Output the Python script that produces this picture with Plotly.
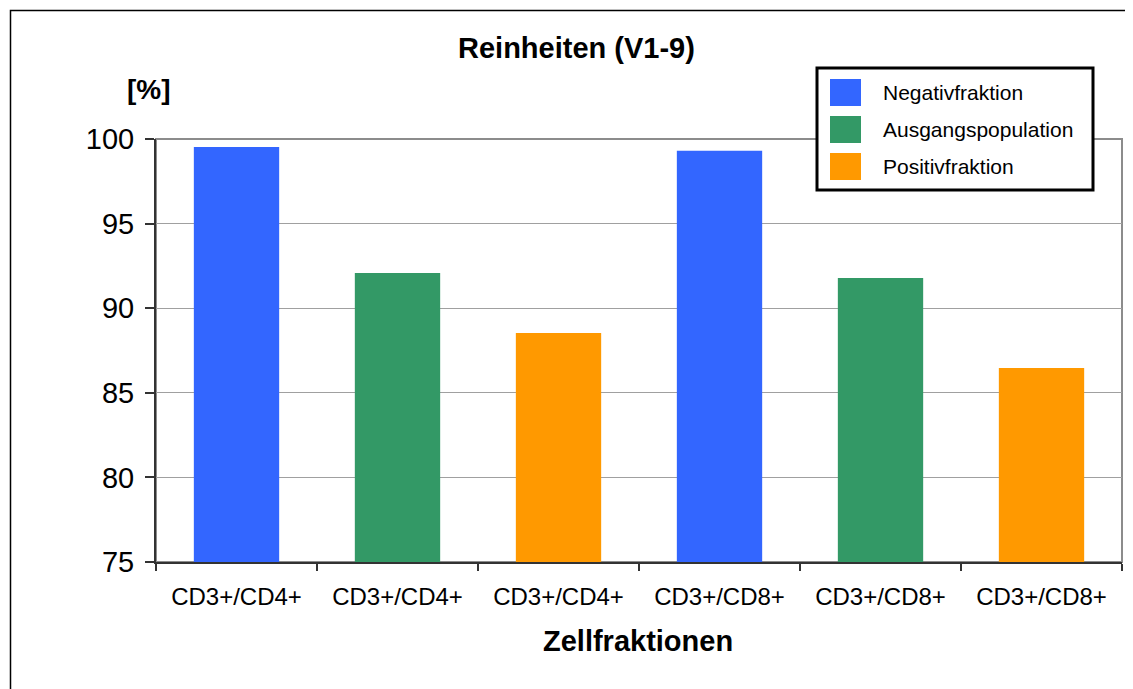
import plotly.graph_objects as go

# ---- data ----
categories = ["CD3+/CD4+", "CD3+/CD4+", "CD3+/CD4+", "CD3+/CD8+", "CD3+/CD8+", "CD3+/CD8+"]
series_names = ["Negativfraktion", "Ausgangspopulation", "Positivfraktion"]
negativ_values = [99.53, 99.30]
ausgang_values = [92.08, 91.78]
positiv_values = [88.53, 86.47]
series_positions = [[0, 3], [1, 4], [2, 5]]
y_ticks = [75, 80, 85, 90, 95, 100]
title_text = "Reinheiten (V1-9)"
y_title = "[%]"
x_title = "Zellfraktionen"

colors = ["#3366FF", "#339966", "#FF9900"]
series_values = [negativ_values, ausgang_values, positiv_values]

W, H = 1133, 689
OFF = 8  # page body margin
# target plot area in page pixels: x 156..1122, y 139..562
L = 156 - OFF
T = 139 - OFF
R = W - (1122 - OFF)
B = H - (562 - OFF)
pw, ph = W - L - R, H - T - B


def px(x):
    return (x - OFF - L) / pw


def py(y):
    return (H - B - (y - OFF)) / ph


FONT = "Arial, Liberation Sans, sans-serif"

fig = go.Figure()
for name, pos, vals, col in zip(series_names, series_positions, series_values, colors):
    fig.add_trace(go.Bar(x=pos, y=vals, name=name, marker=dict(color=col, line=dict(width=0)),
                         width=0.53, showlegend=False))

fig.update_layout(
    width=W, height=H,
    margin=dict(l=L, r=R, t=T, b=B),
    paper_bgcolor="white", plot_bgcolor="white",
    barmode="overlay",
    font=dict(family=FONT, color="black"),
    xaxis=dict(
        range=[-0.5, 5.5], tickmode="array", tickvals=list(range(len(categories))),
        ticktext=categories, ticks="", showgrid=False, zeroline=False,
        showline=True, linecolor="#333333", linewidth=2,
        tickfont=dict(size=24, family=FONT, color="black"),
        minor=dict(ticks="outside", tickmode="array",
                   tickvals=[i - 0.5 for i in range(len(categories) + 1)],
                   ticklen=7, tickwidth=2, tickcolor="#333333", showgrid=False),
        ticklabelstandoff=12,
    ),
    yaxis=dict(
        range=[75, 100], tickmode="array", tickvals=y_ticks,
        ticks="outside", ticklen=9, tickwidth=2, tickcolor="#333333",
        showgrid=True, gridcolor="#a0a0a0", gridwidth=1, zeroline=False,
        showline=True, linecolor="#333333", linewidth=2,
        tickfont=dict(size=29, family=FONT, color="black"),
        ticklabelstandoff=5,
    ),
)

shapes = [
    # plot area border (top/right grey)
    dict(type="rect", xref="paper", yref="paper", x0=0, y0=0, x1=1, y1=1,
         line=dict(color="#8c8c8c", width=2), layer="below"),
    # outer chart frame
    dict(type="rect", xref="paper", yref="paper", x0=px(10.5), y0=py(10.5), x1=px(1160), y1=py(720),
         line=dict(color="black", width=1.5)),
    # legend box
    dict(type="rect", xref="paper", yref="paper", x0=px(817), y0=py(68), x1=px(1093), y1=py(190),
         line=dict(color="black", width=3), fillcolor="white"),
]
annotations = [
    dict(text="<b>%s</b>" % title_text, x=px(576), y=py(48), xref="paper", yref="paper",
         showarrow=False, xanchor="center", yanchor="middle", font=dict(size=29, family=FONT)),
    dict(text="<b>%s</b>" % y_title, x=px(149), y=py(89), xref="paper", yref="paper",
         showarrow=False, xanchor="center", yanchor="middle", font=dict(size=28, family=FONT)),
    dict(text="<b>%s</b>" % x_title, x=px(638), y=py(641), xref="paper", yref="paper",
         showarrow=False, xanchor="center", yanchor="middle", font=dict(size=29, family=FONT)),
]
row_tops = [79, 116, 153]
for name, col, top in zip(series_names, colors, row_tops):
    shapes.append(dict(type="rect", xref="paper", yref="paper", x0=px(830), x1=px(861),
                       y0=py(top), y1=py(top + 27), fillcolor=col, line=dict(width=0)))
    annotations.append(dict(text=name, x=px(881), y=py(top + 13.5), xref="paper", yref="paper",
                            showarrow=False, xanchor="left", yanchor="middle",
                            font=dict(size=21, family=FONT, color="black")))

fig.update_layout(shapes=shapes, annotations=annotations)
fig.write_html("out.html")
